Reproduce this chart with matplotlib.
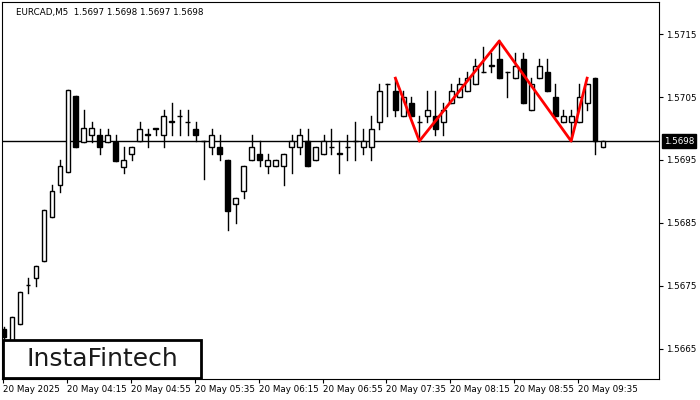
import matplotlib
matplotlib.use("Agg")
import matplotlib.pyplot as plt
from matplotlib.patches import Rectangle

opens = [1.56682,1.56655,1.56690,1.56751,1.56762,1.56789,1.56859,1.56910,1.56931,1.57051,
         1.56979,1.56989,1.5699,1.56979,1.56979,1.56939,1.5696,1.5698,1.5699,1.5700,
         1.5699,1.57011,1.5702,1.5701,1.5700,1.5698,1.5697,1.5697,1.5695,1.5688,
         1.5690,1.5695,1.5696,1.5694,1.5694,1.5694,1.5697,1.5697,1.5698,1.5695,
         1.5696,1.5697,1.5696,1.5697,1.5698,1.5697,1.5697,1.5701,1.5707,1.5706,
         1.5702,1.5704,1.5701,1.5702,1.5702,1.5701,1.5704,1.5705,1.5706,1.5707,
         1.5709,1.5710,1.5711,1.5709,1.5708,1.5711,1.5703,1.5708,1.5709,1.5705,
         1.5701,1.5701,1.5701,1.5704,1.5708,1.5697]
highs = [1.56685,1.56701,1.56741,1.56762,1.56781,1.56870,1.56910,1.56950,1.57061,1.57051,
         1.5703,1.57011,1.5700,1.5700,1.5699,1.5697,1.5697,1.5701,1.5700,1.5700,
         1.5703,1.5704,1.5703,1.5703,1.5701,1.5698,1.5700,1.5699,1.5695,1.5689,
         1.5694,1.5699,1.5698,1.5696,1.5695,1.5696,1.5699,1.5700,1.5700,1.5697,
         1.5699,1.5700,1.5698,1.5699,1.5701,1.5700,1.5702,1.5707,1.5707,1.5708,
         1.5706,1.5705,1.5702,1.5706,1.5706,1.5704,1.5707,1.5708,1.5709,1.5711,
         1.5713,1.5712,1.5714,1.5709,1.5712,1.5712,1.5708,1.5711,1.5711,1.5707,
         1.5703,1.5703,1.5707,1.5707,1.5708,1.5698]
lows = [1.5665,1.5665,1.56690,1.56739,1.56749,1.56789,1.56859,1.56899,1.56931,1.56970,
        1.56979,1.56979,1.5696,1.56979,1.56949,1.5693,1.5695,1.5698,1.5697,1.5699,
        1.5697,1.5699,1.5699,1.5699,1.5698,1.5692,1.5696,1.5695,1.56839,1.5685,
        1.5689,1.5695,1.5694,1.5693,1.5694,1.5691,1.5693,1.5696,1.5694,1.5695,
        1.5696,1.5696,1.5693,1.5695,1.5695,1.5696,1.5695,1.5700,1.5702,1.5702,
        1.5702,1.5702,1.5698,1.5701,1.5699,1.5699,1.5704,1.5705,1.5706,1.5707,
        1.5709,1.5709,1.5708,1.5705,1.5708,1.5704,1.5703,1.5708,1.5706,1.5702,
        1.5701,1.5698,1.5701,1.5703,1.5696,1.5697]
closes = [1.56669,1.56701,1.56741,1.56751,1.56781,1.56870,1.56901,1.56941,1.57061,1.56970,
          1.57001,1.57001,1.5697,1.5699,1.56949,1.5695,1.5697,1.5700,1.5699,1.5700,
          1.5702,1.57011,1.5702,1.5701,1.5699,1.5698,1.5699,1.5696,1.56869,1.5689,
          1.5694,1.5697,1.5695,1.5695,1.5695,1.5696,1.5698,1.5699,1.5694,1.5697,
          1.5698,1.5697,1.5696,1.5697,1.5698,1.5698,1.5700,1.5706,1.5707,1.5703,
          1.5705,1.5702,1.5701,1.5703,1.5700,1.5703,1.5706,1.5707,1.5708,1.5710,
          1.5709,1.5710,1.5708,1.5709,1.5710,1.5704,1.5707,1.5710,1.5706,1.5702,
          1.5702,1.5702,1.5705,1.5707,1.5698,1.5698]

pattern_idx = [49, 52, 62, 71, 73]
pattern_price = [1.5708, 1.5698, 1.57139, 1.5698, 1.5708]

ytick_vals = [1.5665, 1.5675, 1.5685, 1.5695, 1.5705, 1.5715]
xtick_idx = [0, 8, 16, 24, 32, 40, 48, 56, 64, 72]
xtick_labels = ["20 May 2025", "20 May 04:15", "20 May 04:55", "20 May 05:35", "20 May 06:15",
                "20 May 06:55", "20 May 07:35", "20 May 08:15", "20 May 08:55", "20 May 09:35"]
current_price = 1.5698

fs = 6.3
fig = plt.figure(figsize=(7, 4), dpi=100)
ax = fig.add_axes([2/700, 21/400, 657/700, 377/400])
ax.set_xlim(-0.25, 82)
ax.set_ylim(1.56602, 1.57201)

w = 0.6
for i, (o, h, l, c) in enumerate(zip(opens, highs, lows, closes)):
    ax.plot([i, i], [l, h], color="black", lw=1, zorder=2)
    bottom = min(o, c)
    height = max(abs(c - o), 0.000005)
    face = "white" if c >= o else "black"
    ax.add_patch(Rectangle((i - w/2, bottom), w, height, facecolor=face,
                           edgecolor="black", lw=1, zorder=3))

ax.axhline(current_price, color="black", lw=1, zorder=1)
ax.plot(pattern_idx, pattern_price, color="red", lw=2, zorder=4)

ax.yaxis.tick_right()
ax.set_yticks(ytick_vals)
ax.set_yticklabels([f"{v:.4f}" for v in ytick_vals], fontsize=fs)
ax.set_xticks([i - 0.125 for i in xtick_idx])
ax.set_xticklabels(xtick_labels, fontsize=fs, ha="left")
ax.tick_params(axis="both", length=3, pad=2)
ax.tick_params(axis="x", pad=1)

ax.text(1.0 + 5/657, current_price, f"{current_price:.4f}", transform=ax.get_yaxis_transform(),
        fontsize=fs, color="white", va="center", ha="left",
        bbox=dict(facecolor="black", edgecolor="black", pad=1.5))

ax.text(14/657, 0.985, "EURCAD,M5  1.5697 1.5698 1.5697 1.5698", transform=ax.transAxes,
        fontsize=fs, va="top", ha="left")

fig.patches.append(Rectangle((3/700, 22/400), 198/700, 38/400, transform=fig.transFigure,
                             facecolor="white", edgecolor="black", lw=2, zorder=10))
fig.text(102/700, 41/400, "InstaFintech", fontsize=18, ha="center", va="center",
         color="#1a1a1a", zorder=11)

fig.savefig("out.png", dpi=100)
